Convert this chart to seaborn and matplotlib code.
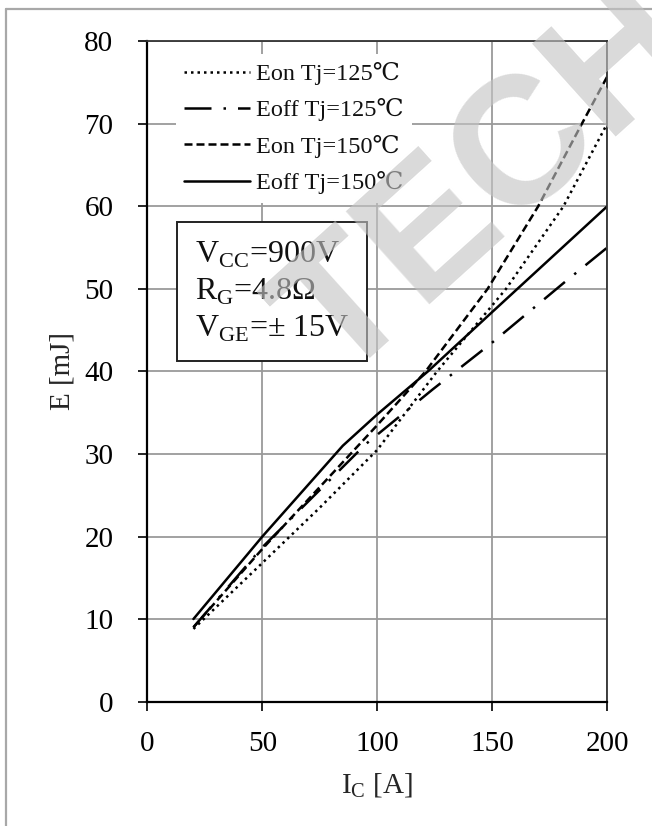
import numpy as np
import pandas as pd
import matplotlib
matplotlib.use("Agg")
import matplotlib.pyplot as plt
from matplotlib.lines import Line2D
import seaborn as sns

# switching energy vs collector current
ic_eon125 = [20, 50, 75, 100, 126, 156, 181, 200]
e_eon125 = [8.8, 16.8, 23.5, 30.5, 40.0, 50.0, 60.0, 70.0]

ic_eoff125 = [20, 50, 95, 124, 150, 181, 200]
e_eoff125 = [9.0, 18.7, 31.2, 37.8, 43.5, 50.7, 55.0]

ic_eon150 = [20, 50, 100, 121, 148, 170, 189, 200]
e_eon150 = [9.0, 18.5, 33.5, 40.0, 50.0, 60.0, 70.0, 75.7]

ic_eoff150 = [20, 50, 85, 100, 122, 150, 200]
e_eoff150 = [10.0, 20.0, 31.0, 34.8, 40.0, 47.2, 60.0]

labels = ["Eon Tj=125\u2103", "Eoff Tj=125\u2103", "Eon Tj=150\u2103", "Eoff Tj=150\u2103"]
x_ticks = [0, 50, 100, 150, 200]
y_ticks = [0, 10, 20, 30, 40, 50, 60, 70, 80]

sns.set_style("white")
plt.rcParams['font.family'] = ['Liberation Serif', 'DejaVu Serif', 'DejaVu Sans']
plt.rcParams['mathtext.fontset'] = 'custom'
plt.rcParams['mathtext.rm'] = 'Liberation Serif'
plt.rcParams['text.color'] = '#111111'

fig = plt.figure(figsize=(6.52, 8.26), dpi=100)
ax = fig.add_axes([0.2262, 0.1507, 0.7048, 0.7991])

series = [
    (ic_eon125, e_eon125, (0, (1, 1.6))),
    (ic_eoff125, e_eoff125, (0, (10.8, 4.8, 1, 4.8))),
    (ic_eon150, e_eon150, (0, (3.2, 1.6))),
    (ic_eoff150, e_eoff150, '-'),
]
for (xs, ys, ls), lab in zip(series, labels):
    df = pd.DataFrame({'Ic': xs, 'E': ys})
    sns.lineplot(data=df, x='Ic', y='E', ax=ax, color='black', lw=1.8,
                 linestyle=ls, label=lab, sort=False)

ax.set_xlim(0, 200)
ax.set_ylim(0, 80)
ax.set_xticks(x_ticks)
ax.set_yticks(y_ticks)
ax.grid(True, color='#9a9a9a', lw=1.3)
ax.set_axisbelow(True)
for s in ax.spines.values():
    s.set_color('#333333')
    s.set_linewidth(1.3)
ax.spines['left'].set_color('black')
ax.spines['bottom'].set_color('black')
ax.spines['left'].set_linewidth(1.6)
ax.spines['bottom'].set_linewidth(1.6)
ax.tick_params(axis='both', direction='out', length=6.5, width=1.2,
               labelsize=21, colors='black', left=True, bottom=True)
ax.tick_params(axis='y', pad=18)
ax.tick_params(axis='x', pad=15)

ax.set_xlabel(r'I$_{\mathregular{C}}$ [A]', fontsize=21, labelpad=10)
ax.set_ylabel('E [mJ]', fontsize=21, labelpad=6)

leg = ax.legend(loc='upper left', bbox_to_anchor=(0.035, 1.0), fontsize=17.5,
                frameon=True, fancybox=False, framealpha=1, facecolor='white',
                edgecolor='none', handlelength=2.7, handletextpad=0.25,
                labelspacing=0.55, borderpad=0.35)

ax.text(0.103, 0.70,
        'V$_{\\mathregular{CC}}$=900V\nR$_{\\mathregular{G}}$=4.8\u03a9\nV$_{\\mathregular{GE}}$=\u00b1 15V',
        transform=ax.transAxes, ha='left', va='top', fontsize=23,
        linespacing=1.28, zorder=5,
        bbox=dict(boxstyle='square,pad=0.55', fc='white', ec='#222222', lw=1.4))

# page border of the scanned datasheet
fig.add_artist(Line2D([6 / 652, 1.0], [1 - 9 / 826, 1 - 9 / 826],
                      transform=fig.transFigure, color='#a8a8a8', lw=1.6))
fig.add_artist(Line2D([6 / 652, 6 / 652], [0.0, 1 - 9 / 826],
                      transform=fig.transFigure, color='#a8a8a8', lw=1.6))

# watermark
fig.text(490 / 652, 1 - 185 / 826, 'TECH', fontsize=130, fontweight='bold',
         family='Liberation Sans', color='0.77', alpha=0.62, rotation=42,
         rotation_mode='anchor', ha='center', va='center', zorder=20)

fig.savefig('out.png', dpi=100)
